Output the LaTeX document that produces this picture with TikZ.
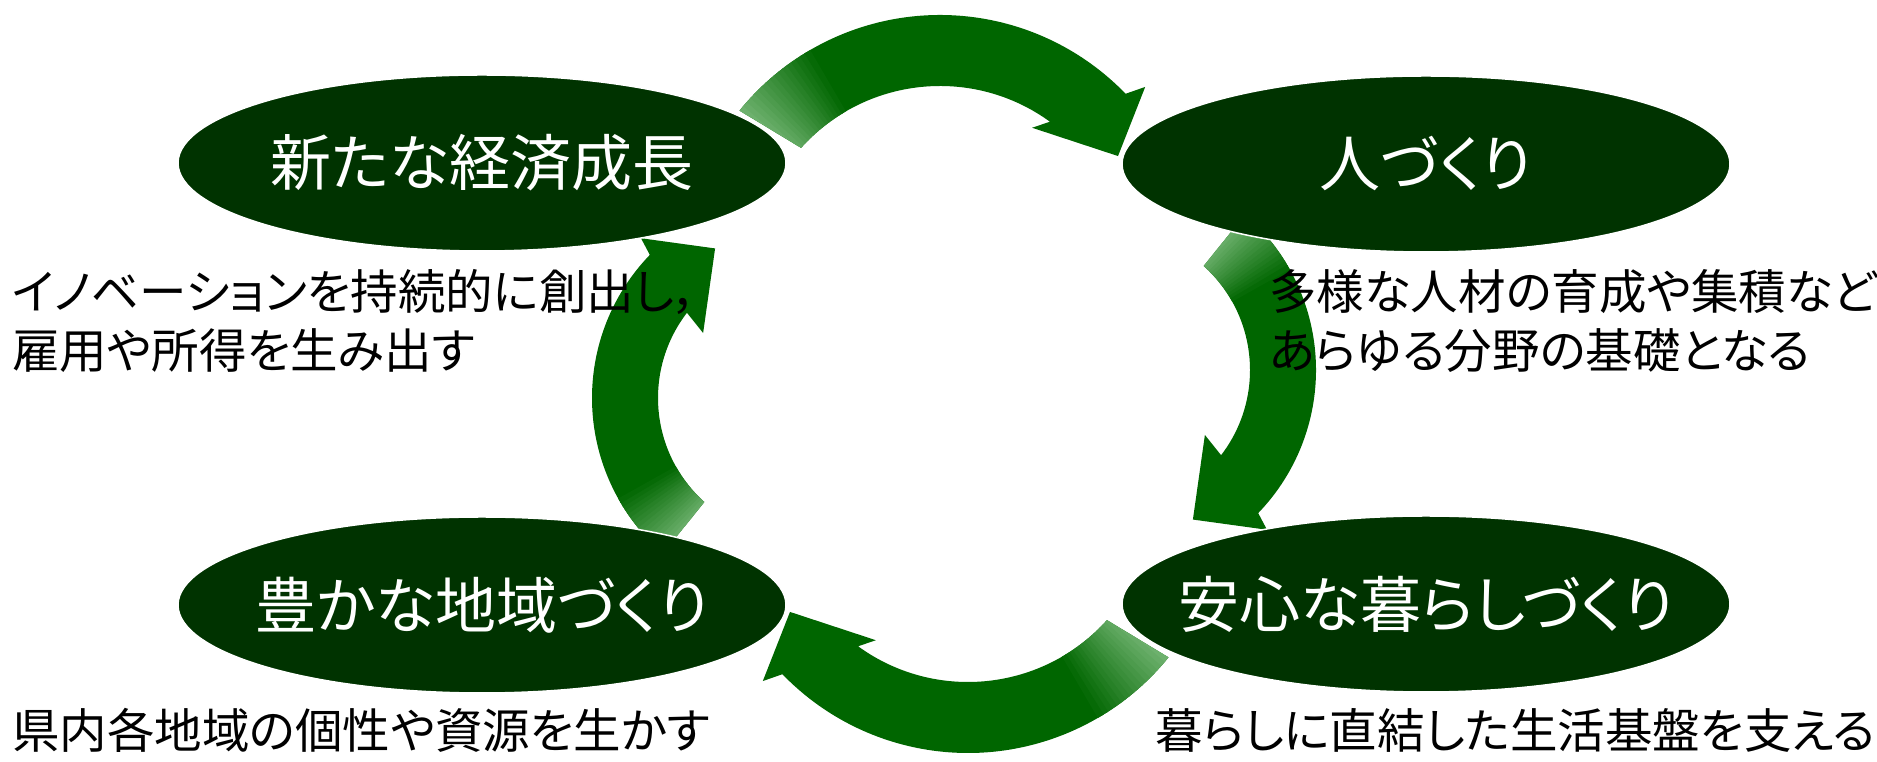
\documentclass[tikz,border=0pt]{standalone}
\usepackage{fontspec}
\newfontfamily\jp[RawFeature=+palt]{Noto Sans CJK JP}
\usetikzlibrary{calc,shapes.geometric}
\definecolor{ellgreen}{HTML}{003300}
\definecolor{arrgreen}{HTML}{006600}
\definecolor{lightarr}{RGB}{128,190,128}

% top-type arrow: #1 centre, #2 angle offset
\newcommand\bigarrowpath[2]{($(#1)+({141+#2}:258)$) arc[start angle={141+#2}, end angle={44+#2}, radius=258pt]
  -- ($(#1)+({42.2+#2}:277)$) -- ($(#1)+({33.3+#2}:213)$) -- ($(#1)+({57.6+#2}:172)$)
  -- ($(#1)+({54+#2}:187)$) arc[start angle={54+#2}, end angle={138+#2}, radius=187pt] -- cycle}
% side-type arrow
\newcommand\sidearrowpath[2]{($(#1)+({49+#2}:206)$) arc[start angle={49+#2}, end angle={-44+#2}, radius=206pt]
  -- ($(#1)+({-45.5+#2}:224)$) -- ($(#1)+({-61+#2}:171)$) -- ($(#1)+({-34.4+#2}:115)$)
  -- ($(#1)+({-37.5+#2}:140)$) arc[start angle={-37.5+#2}, end angle={48+#2}, radius=140pt] -- cycle}
% fading sectors at the tail: #1 centre, #2 tail angle, #3 outer, #4 inner
\newcommand\tailfade[4]{%
  \foreach \k in {0,...,19}{%
    \pgfmathsetmacro\pa{#2+5-\k*1.2}%
    \pgfmathsetmacro\pb{#2+5-(\k+1)*1.2-0.3}%
    \pgfmathsetmacro\pc{100-\k*5}%
    \fill[lightarr!\pc!arrgreen] ($(#1)+(\pa:#3)$) arc[start angle=\pa, end angle=\pb, radius=#3 pt]
      -- ($(#1)+(\pb:#4)$) arc[start angle=\pb, end angle=\pa, radius=#4 pt] -- cycle;}}
\newcommand\zw[1]{\makebox[0pt][c]{#1}}

\tikzset{
  oval/.style={ellipse, fill=ellgreen, draw=white, line width=1.5pt, minimum width=608pt,
    minimum height=176pt, inner sep=0pt, text=white, font=\jp\fontsize{61}{63}\selectfont},
  desc/.style={anchor=west, align=left, inner sep=0pt, text=black, font=\jp\fontsize{47.5}{59}\selectfont}
}

\begin{document}
\begin{tikzpicture}[x=1pt,y=1pt]
\useasboundingbox[fill=white] (0,0) rectangle (1877,762);

\coordinate (Ct) at (940,489);
\coordinate (Cb) at (968,267);
\coordinate (Cr) at (1110,392);
\coordinate (Cl) at (798,364);

% top arrow
\fill[arrgreen] \bigarrowpath{Ct}{0};
\begin{scope}\clip \bigarrowpath{Ct}{0}; \tailfade{Ct}{139.5}{275}{175} \end{scope}
% bottom arrow
\fill[arrgreen] \bigarrowpath{Cb}{180};
\begin{scope}\clip \bigarrowpath{Cb}{180}; \tailfade{Cb}{319.5}{275}{175} \end{scope}
% right arrow
\fill[arrgreen] \sidearrowpath{Cr}{0};
\begin{scope}\clip \sidearrowpath{Cr}{0}; \tailfade{Cr}{48.5}{220}{125} \end{scope}
% left arrow
\fill[arrgreen] \sidearrowpath{Cl}{180};
\begin{scope}\clip \sidearrowpath{Cl}{180}; \tailfade{Cl}{228.5}{220}{125} \end{scope}

\node[oval] (growth) at (482,599) {\zw{新たな経済成長}};
\node[oval] (people) at (1426,598) {\zw{人づくり}};
\node[oval] (region) at (482,157) {\zw{豊かな地域づくり}};
\node[oval] (life) at (1426,158) {\zw{安心な暮らしづくり}};

\node[desc] (dgrowth) at (12,441) {イノベーションを持続的に創出し，\\雇用や所得を生み出す};
\node[desc] (dpeople) at (1269,441) {多様な人材の育成や集積など\\あらゆる分野の基礎となる};
\node[desc] (dregion) at (12,32) {県内各地域の個性や資源を生かす};
\node[desc] (dlife) at (1155,32) {暮らしに直結した生活基盤を支える};
\end{tikzpicture}
\end{document}
